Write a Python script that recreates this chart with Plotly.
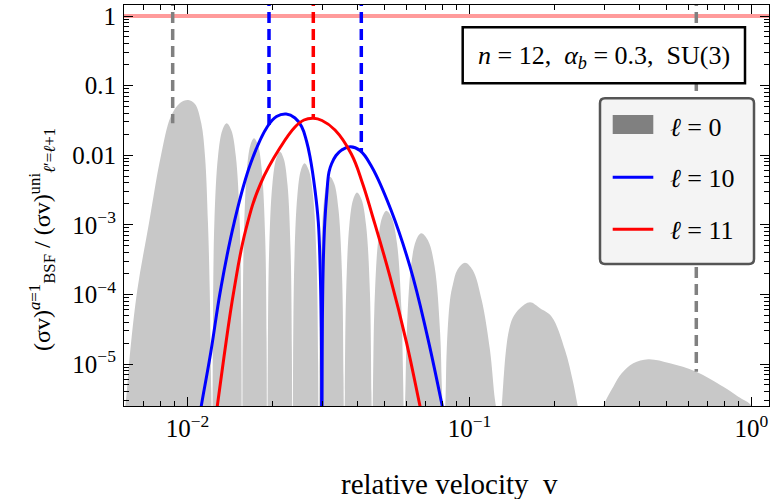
import plotly.graph_objects as go

ZERO = 1.6e-6  # exact zeros of the ratio: drawn just below the visible range

# ---- l = 0 : lobes of the ratio (v, ratio) ----
lobe01_v = [5.904e-3, 6.036e-3, 6.237e-3, 6.637e-3, 7.302e-3, 8.035e-3, 8.718e-3, 9.406e-3,
            1.0066e-2, 1.063e-2, 1.119e-2, 1.154e-2, 1.182e-2, 1.199e-2, 1.214e-2, 1.219e-2]
lobe01_r = [ZERO, 2.753e-6, 1.273e-5, 1.157e-4, 1.061e-3, 9.515e-3, 3.573e-2, 5.623e-2,
            6.208e-2, 5.440e-2, 2.873e-2, 9.515e-3, 1.051e-3, 1.157e-4, 4.23e-6, ZERO]
lobe02_v = [1.227e-2, 1.231e-2, 1.245e-2, 1.283e-2, 1.329e-2, 1.377e-2, 1.430e-2, 1.484e-2, 1.532e-2, 1.551e-2, 1.556e-2]
lobe02_r = [ZERO, 3.844e-5, 1.051e-3, 9.643e-3, 2.279e-2, 2.873e-2, 2.279e-2, 9.643e-3, 1.051e-3, 3.844e-5, ZERO]
lobe03_v = [1.566e-2, 1.568e-2, 1.584e-2, 1.623e-2, 1.671e-2, 1.721e-2, 1.778e-2, 1.836e-2, 1.886e-2, 1.907e-2, 1.911e-2]
lobe03_r = [ZERO, 2.340e-5, 6.397e-4, 5.870e-3, 1.388e-2, 1.749e-2, 1.388e-2, 5.870e-3, 6.397e-4, 2.340e-5, ZERO]
lobe04_v = [1.923e-2, 1.927e-2, 1.947e-2, 1.999e-2, 2.063e-2, 2.128e-2, 2.194e-2, 2.263e-2, 2.321e-2, 2.345e-2, 2.349e-2]
lobe04_r = [ZERO, 1.502e-5, 4.107e-4, 3.768e-3, 8.906e-3, 1.123e-2, 8.906e-3, 3.768e-3, 4.107e-4, 1.502e-5, ZERO]
lobe05_v = [2.365e-2, 2.368e-2, 2.392e-2, 2.451e-2, 2.524e-2, 2.600e-2, 2.692e-2, 2.788e-2, 2.871e-2, 2.905e-2, 2.912e-2]
lobe05_r = [ZERO, 1.023e-5, 2.798e-4, 2.567e-3, 6.067e-3, 7.648e-3, 6.067e-3, 2.567e-3, 2.798e-4, 1.023e-5, ZERO]
lobe06_v = [2.931e-2, 2.935e-2, 2.962e-2, 3.030e-2, 3.115e-2, 3.201e-2, 3.315e-2, 3.432e-2, 3.533e-2, 3.574e-2, 3.583e-2]
lobe06_r = [ZERO, 6.569e-6, 1.796e-4, 1.648e-3, 3.894e-3, 4.911e-3, 3.894e-3, 1.648e-3, 1.796e-4, 6.569e-6, ZERO]
lobe07_v = [3.607e-2, 3.614e-2, 3.652e-2, 3.748e-2, 3.868e-2, 3.991e-2, 4.142e-2, 4.299e-2, 4.435e-2, 4.490e-2, 4.503e-2]
lobe07_r = [ZERO, 3.894e-6, 1.065e-4, 9.770e-4, 2.309e-3, 2.911e-3, 2.309e-3, 9.770e-4, 1.065e-4, 3.894e-6, ZERO]
lobe08_v = [4.533e-2, 4.560e-2, 4.597e-2, 4.731e-2, 4.897e-2, 5.070e-2, 5.297e-2, 5.534e-2, 5.740e-2, 5.799e-2, 5.848e-2]
lobe08_r = [ZERO, 1.115e-5, 5.831e-5, 5.350e-4, 1.265e-3, 1.594e-3, 1.265e-3, 5.350e-4, 5.831e-5, 1.115e-5, ZERO]
lobe09_v = [5.887e-2, 5.933e-2, 5.991e-2, 6.202e-2, 6.466e-2, 6.741e-2, 7.120e-2, 7.519e-2, 7.870e-2, 7.971e-2, 8.061e-2]
lobe09_r = [ZERO, 5.280e-6, 2.761e-5, 2.533e-4, 5.989e-4, 7.548e-4, 5.989e-4, 2.533e-4, 2.761e-5, 5.280e-6, ZERO]
lobe10_v = [8.140e-2, 8.220e-2, 8.302e-2, 8.528e-2, 8.740e-2, 9.052e-2, 9.639e-2, 0.10265, 0.11046, 0.11821, 0.12314, 0.12641]
lobe10_r = [ZERO, 3.040e-6, 1.589e-5, 8.307e-5, 1.411e-4, 2.242e-4, 2.855e-4, 2.242e-4, 8.307e-5, 1.589e-5, 3.040e-6, ZERO]
lobe11_v = [0.12849, 0.13007, 0.13178, 0.13473, 0.13807, 0.14230, 0.15104, 0.16389, 0.17783, 0.19562, 0.21809,
            0.23339, 0.24193, 0.24732]
lobe11_r = [ZERO, 2.492e-6, 5.333e-6, 1.589e-5, 3.080e-5, 4.580e-5, 6.314e-5, 7.700e-5, 6.314e-5, 4.782e-5, 1.589e-5,
            5.333e-6, 2.492e-6, ZERO]
lobe12_v = [0.29024, 0.29816, 0.32357, 0.34651, 0.38079, 0.43055, 0.51405, 0.63561, 0.79433, 0.89782, 1.0, 1.0]
lobe12_r = [ZERO, 2.492e-6, 4.720e-6, 7.351e-6, 1.023e-5, 1.168e-5, 1.023e-5, 7.752e-6, 4.720e-6, 3.390e-6, 2.5e-6, ZERO]

# ---- l = 10 (two lobes, zero in between) ----
l10a_v = [1.1028e-2, 1.119e-2, 1.2086e-2, 1.3114e-2, 1.4618e-2, 1.6754e-2, 1.9186e-2, 2.0683e-2, 2.2387e-2,
          2.4056e-2, 2.5408e-2, 2.6423e-2, 2.7190e-2, 2.8323e-2, 2.9096e-2, 2.9551e-2, 2.9816e-2, 2.9939e-2]
l10a_r = [1.70e-6, 2.492e-6, 1.45e-5, 1.19e-4, 1.051e-3, 7.648e-3, 2.567e-2, 3.597e-2, 3.908e-2,
          3.423e-2, 2.567e-2, 1.600e-2, 9.515e-3, 3.162e-3, 1.097e-3, 2.242e-4, 3.080e-5, ZERO]
l10b_v = [2.9939e-2, 3.0086e-2, 3.0308e-2, 3.0682e-2, 3.1162e-2, 3.1752e-2, 3.2460e-2, 3.3621e-2, 3.5221e-2,
          3.7845e-2, 4.0898e-2, 4.4997e-2, 5.2678e-2, 6.1519e-2, 7.0507e-2, 7.9694e-2, 8.0544e-2]
l10b_r = [ZERO, 4.288e-5, 2.921e-4, 1.097e-3, 2.680e-3, 5.735e-3, 7.598e-3, 9.900e-3, 1.188e-2,
          1.325e-2, 1.168e-2, 6.837e-3, 1.632e-3, 2.500e-4, 2.761e-5, 2.725e-6, 2.2e-6]

# ---- l = 11 ----
l11_v = [1.2650e-2, 1.2754e-2, 1.3472e-2, 1.4618e-2, 1.6084e-2, 1.8179e-2, 2.1405e-2, 2.4056e-2, 2.5889e-2, 2.7932e-2,
         2.9988e-2, 3.3346e-2, 3.8100e-2, 4.1742e-2, 4.5292e-2, 5.2250e-2, 5.9882e-2, 6.6752e-2, 6.7500e-2]
l11_r = [2.0e-6, 2.492e-6, 1.273e-5, 1.157e-4, 8.419e-4, 3.947e-3, 1.325e-2, 2.542e-2, 3.204e-2, 3.390e-2,
         3.152e-2, 2.302e-2, 1.040e-2, 3.950e-3, 1.340e-3, 1.796e-4, 1.983e-5, 2.492e-6, 2.06e-6]

# ---- vertical markers (v position, ratio where the marker stops) ----
gray_mark_v = [8.860e-3, 0.6372]
gray_mark_end = [2.873e-2, 7.752e-6]
blue_mark_v = [1.9454e-2, 4.1334e-2]
blue_mark_end = [2.716e-2, 1.15e-2]
red_mark_v = [2.7932e-2]
red_mark_end = [3.390e-2]
MARK_TOP = 2.0
unity_v = [0.004, 2.0]
unity_r = [1.0, 1.0]

# ---- ticks ----
x_tickvals = [0.01, 0.1, 1.0]
x_ticktext = ["10<sup>−2</sup>", "10<sup>−1</sup>", "10<sup>0</sup>"]
y_tickvals = [1.0, 0.1, 0.01, 1e-3, 1e-4, 1e-5]
y_ticktext = ["1", "0.1", "0.01", "10<sup>−3</sup>", "10<sup>−4</sup>", "10<sup>−5</sup>"]
x_minor = [m * 10.0 ** e for e in (-3, -2, -1) for m in range(2, 10)]
y_minor = [m * 10.0 ** e for e in (-6, -5, -4, -3, -2, -1) for m in range(2, 10)]

FONT = "Liberation Serif"
lobes = [(lobe01_v, lobe01_r), (lobe02_v, lobe02_r), (lobe03_v, lobe03_r), (lobe04_v, lobe04_r),
         (lobe05_v, lobe05_r), (lobe06_v, lobe06_r), (lobe07_v, lobe07_r), (lobe08_v, lobe08_r),
         (lobe09_v, lobe09_r), (lobe10_v, lobe10_r), (lobe11_v, lobe11_r), (lobe12_v, lobe12_r)]
gx, gy = [], []
for lv, lr in lobes:
    gx += lv + [None]
    gy += lr + [None]

fig = go.Figure()
fig.add_trace(go.Scatter(x=gx, y=gy, mode="lines", fill="toself", fillcolor="rgb(200,200,200)",
                         line=dict(width=0, color="rgba(0,0,0,0)", shape="spline", smoothing=1),
                         connectgaps=False, name="ℓ = 0", hoverinfo="skip"))
fig.add_trace(go.Scatter(x=unity_v, y=unity_r, mode="lines",
                         line=dict(color="rgb(255,155,155)", width=4), hoverinfo="skip"))

def add_marks(vs, ends, color):
    for v, e in zip(vs, ends):
        fig.add_trace(go.Scatter(x=[v, v], y=[MARK_TOP, e], mode="lines",
                                 line=dict(color=color, width=3.5, dash="11px,6px"), hoverinfo="skip"))

add_marks(gray_mark_v, gray_mark_end, "rgb(128,128,128)")
add_marks(blue_mark_v, blue_mark_end, "rgb(0,0,255)")
add_marks(red_mark_v, red_mark_end, "rgb(255,0,0)")

fig.add_trace(go.Scatter(x=l10a_v + [None] + l10b_v, y=l10a_r + [None] + l10b_r, mode="lines",
                         line=dict(color="rgb(0,0,255)", width=3, shape="spline", smoothing=1.2),
                         connectgaps=False, name="ℓ = 10"))
fig.add_trace(go.Scatter(x=l11_v, y=l11_r, mode="lines",
                         line=dict(color="rgb(255,0,0)", width=3, shape="spline", smoothing=1.2),
                         name="ℓ = 11"))

W, H = 771, 499
L, R, T, B = 124, 2, 5, 93
pw, ph = W - L - R, H - T - B
def px(x): return (x - L) / pw
def py(y): return (H - B - y) / ph

axis_common = dict(type="log", showline=True, linecolor="black", linewidth=1.2, mirror="ticks",
                   ticks="inside", ticklen=9, tickwidth=1.1, tickcolor="black", showgrid=False,
                   zeroline=False, tickfont=dict(family=FONT, size=25, color="black"))
fig.update_xaxes(range=[-2.2252, 0.0621], tickvals=x_tickvals, ticktext=x_ticktext,
                 minor=dict(tickvals=x_minor, ticks="inside", ticklen=4.5, tickcolor="black", showgrid=False),
                 **axis_common)
fig.update_yaxes(range=[-5.6034, 0.1580], tickvals=y_tickvals, ticktext=y_ticktext, ticklabelstandoff=2,
                 minor=dict(tickvals=y_minor, ticks="inside", ticklen=4.5, tickcolor="black", showgrid=False),
                 **axis_common)

shapes = []
# parameter box
shapes.append(dict(type="rect", xref="paper", yref="paper", x0=px(462.7), x1=px(745), y0=py(83.3), y1=py(27.3),
                   line=dict(color="black", width=2.5), fillcolor="white", layer="above"))
# legend frame with rounded corners
x0, x1, y0, y1 = px(600), px(754), py(264), py(98.3)
rx, ry = 5 / pw, 5 / ph
path = (f"M {x0+rx},{y1} L {x1-rx},{y1} Q {x1},{y1} {x1},{y1-ry} L {x1},{y0+ry} Q {x1},{y0} {x1-rx},{y0} "
        f"L {x0+rx},{y0} Q {x0},{y0} {x0},{y0+ry} L {x0},{y1-ry} Q {x0},{y1} {x0+rx},{y1} Z")
shapes.append(dict(type="path", xref="paper", yref="paper", path=path, fillcolor="rgb(244,244,244)",
                   line=dict(color="rgb(85,85,85)", width=2.5), layer="above"))
shapes.append(dict(type="rect", xref="paper", yref="paper", x0=px(612.7), x1=px(653.3), y0=py(134), y1=py(115),
                   fillcolor="rgb(128,128,128)", line=dict(width=0), layer="above"))
shapes.append(dict(type="line", xref="paper", yref="paper", x0=px(612.7), x1=px(653.3), y0=py(177.3), y1=py(177.3),
                   line=dict(color="rgb(0,0,255)", width=3), layer="above"))
shapes.append(dict(type="line", xref="paper", yref="paper", x0=px(612.7), x1=px(653.3), y0=py(229.3), y1=py(229.3),
                   line=dict(color="rgb(255,0,0)", width=3), layer="above"))

ann = []
def text(x, y, s, size, xanchor="center", angle=0):
    ann.append(dict(xref="paper", yref="paper", x=px(x), y=py(y), text=s, showarrow=False, xanchor=xanchor,
                    yanchor="middle", textangle=angle, font=dict(family=FONT, size=size, color="black")))

text(449, 484, "relative velocity\u00a0\u00a0v", 29)
text(42, 240, "(σv)<sup><i>a</i>=1</sup><sub>BSF</sub> / (σv)<sup>uni</sup><sub><i>ℓ</i>′=<i>ℓ</i>+1</sub>", 24, angle=-90)
text(604, 56.7, "<i>n</i> = 12,\u00a0\u00a0<i>α<sub>b</sub></i> = 0.3,\u00a0\u00a0SU(3)", 26)
text(668, 127, "<i>ℓ</i> = 0", 26, xanchor="left")
text(668, 179, "<i>ℓ</i> = 10", 26, xanchor="left")
text(668, 230.8, "<i>ℓ</i> = 11", 26, xanchor="left")

fig.update_layout(width=W, height=H, margin=dict(l=L, r=R, t=T, b=B, pad=0), showlegend=False,
                  plot_bgcolor="white", paper_bgcolor="white", shapes=shapes, annotations=ann,
                  font=dict(family=FONT, color="black"))
fig.write_html("out.html")
